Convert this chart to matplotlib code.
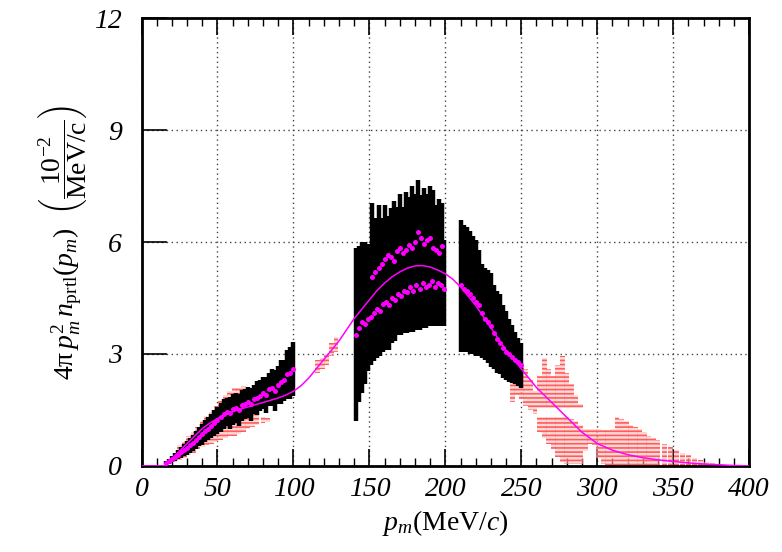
import numpy as np
import matplotlib
matplotlib.use("Agg")
import matplotlib.pyplot as plt
from matplotlib.ticker import MultipleLocator

plt.rcParams['font.family'] = 'Liberation Serif'
plt.rcParams['mathtext.fontset'] = 'custom'
plt.rcParams['mathtext.rm'] = 'Liberation Serif'
plt.rcParams['mathtext.it'] = 'Liberation Serif:italic'
plt.rcParams['hatch.linewidth'] = 1.2

# smooth model curve
curve_x = [0, 10, 15, 17, 20, 25, 30, 35, 40, 45, 50, 55, 60, 65, 70, 75, 80, 85, 90, 95,
           100, 105, 110, 115, 120, 125, 130, 135, 140, 145, 150, 155, 160, 165, 170, 175,
           180, 185, 190, 195, 200, 205, 210, 215, 220, 225, 230, 235, 240, 245, 250, 255,
           260, 265, 270, 275, 280, 285, 290, 295, 300, 310, 320, 330, 340, 350, 360, 370,
           380, 390, 400]
curve_y = [0, 0, 0, 0.1, 0.2, 0.4, 0.6, 0.8, 1.0, 1.15, 1.27, 1.37, 1.45, 1.52, 1.58, 1.64,
           1.7, 1.76, 1.82, 1.9, 2.0, 2.15, 2.35, 2.6, 2.85, 3.1, 3.35, 3.65, 3.95, 4.2, 4.45,
           4.7, 4.9, 5.07, 5.2, 5.3, 5.36, 5.37, 5.33, 5.25, 5.15, 5.0, 4.8, 4.55, 4.3, 4.0,
           3.7, 3.4, 3.1, 2.85, 2.6, 2.35, 2.1, 1.9, 1.7, 1.5, 1.3, 1.1, 0.9, 0.75, 0.6, 0.42,
           0.3, 0.22, 0.16, 0.12, 0.08, 0.05, 0.03, 0.01, 0]

# black data, low momentum
a_x = np.arange(16, 101, 2)
a_y = [0.08, 0.12, 0.18, 0.24, 0.3, 0.36, 0.42, 0.48, 0.55, 0.62, 0.7, 0.78, 0.85, 0.93,
       1.0, 1.08, 1.15, 1.22, 1.3, 1.38, 1.45, 1.42, 1.52, 1.55, 1.5, 1.62, 1.66, 1.7, 1.65,
       1.78, 1.82, 1.88, 1.95, 1.9, 2.05, 2.1, 2.02, 2.17, 2.25, 2.3, 2.45, 2.5, 2.6]
a_err = [0.04, 0.06, 0.08, 0.1, 0.12, 0.14, 0.16, 0.18, 0.2, 0.22, 0.24, 0.26, 0.28, 0.3,
         0.3, 0.32, 0.34, 0.36, 0.38, 0.4, 0.38, 0.42, 0.42, 0.4, 0.44, 0.42, 0.4, 0.42, 0.44,
         0.4, 0.45, 0.42, 0.42, 0.48, 0.45, 0.5, 0.55, 0.52, 0.58, 0.55, 0.65, 0.7, 0.72]

# black data, middle region (lower branch)
b_x = np.arange(141, 200, 2)
b_y = [3.5, 3.7, 3.85, 3.8, 3.95, 4.0, 4.1, 4.2, 4.15, 4.35, 4.4, 4.3, 4.5, 4.45, 4.6,
       4.55, 4.7, 4.65, 4.8, 4.7, 4.85, 4.75, 4.9, 4.8, 4.85, 4.95, 4.8, 4.9, 4.85, 4.75]
b_lo = [2.3, 2.0, 1.9, 1.6, 1.4, 1.3, 1.3, 1.3, 1.2, 1.3, 1.3, 1.2, 1.2, 1.1, 1.1,
        1.05, 1.15, 1.1, 1.2, 1.1, 1.2, 1.1, 1.2, 1.1, 1.1, 1.2, 1.05, 1.15, 1.1, 1.0]
b_hi = [2.35, 2.2, 2.15, 2.2, 2.0, 1.9, 1.6, 1.5, 1.6, 1.4, 1.3, 1.5, 1.3, 1.4, 1.3,
        1.4, 1.3, 1.4, 1.2, 1.3, 1.2, 1.3, 1.2, 1.3, 1.2, 1.1, 1.3, 1.2, 1.2, 1.3]

# black data, middle region (upper branch)
u_x = [152, 154, 156, 158, 160, 162, 164, 166, 168, 170, 172, 174, 176, 178, 180, 182,
       184, 186, 188, 190, 192, 194, 196, 198]
u_y = [5.05, 5.2, 5.3, 5.4, 5.55, 5.65, 5.6, 5.5, 5.75, 5.85, 5.7, 5.8, 5.92, 5.84, 6.0,
       6.27, 6.1, 5.95, 6.05, 6.1, 5.84, 5.8, 5.7, 5.9]
u_err = [2.0, 1.45, 1.7, 1.25, 1.45, 1.05, 1.3, 1.6, 1.2, 1.45, 1.25, 1.55, 1.3, 1.65, 1.3,
         1.4, 1.15, 1.5, 1.25, 1.4, 1.55, 1.2, 1.45, 1.15]

# black data, high momentum
c_x = np.arange(210, 251, 2)
c_y = [4.85, 4.75, 4.7, 4.6, 4.5, 4.4, 4.3, 4.1, 3.95, 3.85, 3.75, 3.55, 3.4, 3.3, 3.15,
       3.05, 3.0, 2.92, 2.85, 2.78, 2.7]
c_lo = [1.8, 1.7, 1.65, 1.6, 1.5, 1.45, 1.35, 1.2, 1.1, 1.1, 1.1, 0.95, 0.9, 0.85, 0.8,
        0.75, 0.75, 0.7, 0.65, 0.65, 0.6]
c_hi = [1.75, 1.7, 1.7, 1.7, 1.65, 1.65, 1.5, 1.3, 1.35, 1.4, 1.42, 1.3, 1.3, 1.3, 1.15,
        1.1, 0.95, 0.85, 0.75, 0.65, 0.6]

# red bands (x centre, low edge, high edge)
r_x = [22, 25, 28, 31, 34, 37, 40, 43, 46, 49, 52, 55, 58, 61, 64, 67, 70, 73, 76, 80, 83,
       116, 119, 122, 125, 128,
       244, 247, 250, 253, 256, 259,
       262, 265, 268, 271, 274, 277, 280, 283, 286, 289]
r_lo = [0.1, 0.15, 0.2, 0.28, 0.35, 0.45, 0.5, 0.55, 0.6, 0.65, 0.7, 0.75, 0.8, 0.8, 0.85,
        0.9, 1.0, 1.05, 1.1, 1.15, 1.18,
        2.5, 2.6, 2.7, 2.95, 3.05,
        1.7, 1.9, 1.8, 1.6, 1.5, 1.4,
        1.55, 1.55, 1.55, 1.55, 1.55, 1.55, 1.55, 1.55, 1.55, 1.55]
r_hi = [0.35, 0.55, 0.65, 0.8, 0.9, 1.05, 1.2, 1.35, 1.45, 1.6, 1.75, 1.9, 2.0, 2.1, 2.1,
        2.15, 1.9, 1.75, 1.6, 1.3, 1.28,
        2.85, 2.9, 3.0, 3.3, 3.45,
        2.3, 3.2, 2.7, 2.6, 2.3, 2.0,
        2.4, 2.9, 2.6, 2.4, 2.7, 2.95, 2.5, 2.2, 1.9, 1.65]

t_x = [262, 265, 268, 271, 274, 277, 280, 283, 286, 289, 292, 295, 298, 301, 304, 307, 310,
       313, 316, 319, 322, 325, 328, 331, 334, 337, 340, 344, 348, 352, 356, 360, 364, 368,
       372, 376, 380, 385, 390, 395]
t_lo = [0.9, 0.75, 0.6, 0.45, 0.25, 0.1, 0.05, 0.05, 0.05, 0.05, 0.4, 0.6, 0.55, 0.2, 0.05,
        0.02, 0.02, 0.02, 0.02, 0.02, 0.02, 0.02, 0.02, 0.02, 0.02, 0.02, 0.02, 0.01, 0.01,
        0.01, 0.01, 0.0, 0.0, 0.0, 0.0, 0.0, 0.0, 0.0, 0.0, 0.0]
t_hi = [1.3, 1.3, 1.3, 1.3, 1.3, 1.3, 1.3, 1.25, 1.2, 1.1, 1.0, 1.0, 1.0, 1.0, 0.95, 0.95,
        1.0, 1.3, 1.25, 1.2, 1.1, 1.05, 1.0, 0.9, 0.8, 0.75, 0.7, 0.6, 0.5, 0.42, 0.35, 0.28,
        0.2, 0.15, 0.1, 0.07, 0.05, 0.03, 0.02, 0.01]

fig = plt.figure(figsize=(7.82, 5.52), dpi=100)
ax = fig.add_axes([0.181, 0.156, 0.777, 0.811])

# red hatched bands
for xs, lo, hi in [(r_x, r_lo, r_hi), (t_x, t_lo, t_hi)]:
    lo = np.array(lo)
    hi = np.array(hi)
    ax.bar(xs, hi - lo, bottom=lo, width=3.2, facecolor=(1, 0.72, 0.72, 0.55),
           edgecolor='#ff5c5c', hatch='----', linewidth=0, zorder=2)

# black error bars
lw = 3.2
ax.errorbar(a_x, a_y, yerr=a_err, fmt='none', ecolor='black', elinewidth=lw, zorder=3)
ax.errorbar(b_x, b_y, yerr=[b_lo, b_hi], fmt='none', ecolor='black', elinewidth=lw, zorder=3)
ax.errorbar(u_x, u_y, yerr=u_err, fmt='none', ecolor='black', elinewidth=lw, zorder=3)
ax.errorbar(c_x, c_y, yerr=[c_lo, c_hi], fmt='none', ecolor='black', elinewidth=lw, zorder=3)

# magenta data points
for xs, ys in [(a_x, a_y), (b_x, b_y), (u_x, u_y), (c_x, c_y)]:
    ax.plot(xs, ys, 'o', color='#ff00ff', markersize=3.6, markeredgewidth=0, zorder=4)

# model curve
ax.plot(curve_x, curve_y, color='#ff00ff', linewidth=1.1, zorder=5)

ax.set_xlim(0, 400)
ax.set_ylim(0, 12)
ax.xaxis.set_major_locator(MultipleLocator(50))
ax.xaxis.set_minor_locator(MultipleLocator(10))
ax.yaxis.set_major_locator(MultipleLocator(3))
ax.tick_params(axis='x', which='major', direction='in', length=12, width=1.2,
               top=True, labelsize=20, pad=8)
ax.tick_params(axis='x', which='minor', direction='in', length=6, width=1.0, top=True)
ax.tick_params(axis='y', which='major', direction='in', length=18, width=1.2,
               right=False, labelsize=20, pad=14)
for lab in ax.get_xticklabels() + ax.get_yticklabels():
    lab.set_fontstyle('italic')

ax.grid(True, which='major', linestyle=(0, (1, 2.5)), color='#444444', linewidth=1.0)
for s in ax.spines.values():
    s.set_linewidth(2.0)

ax.set_xlabel(r'$p_m$(MeV/$c$)', fontsize=20, labelpad=4)
ax.set_ylabel(r'$\mathrm{4π}\,p_m^2\,n_{\rm prtl}(p_m)\ \ \left(\dfrac{10^{-2}}{\mathrm{MeV/c}}\right)$',
              fontsize=20, labelpad=4)

fig.savefig('out.png', dpi=100)
